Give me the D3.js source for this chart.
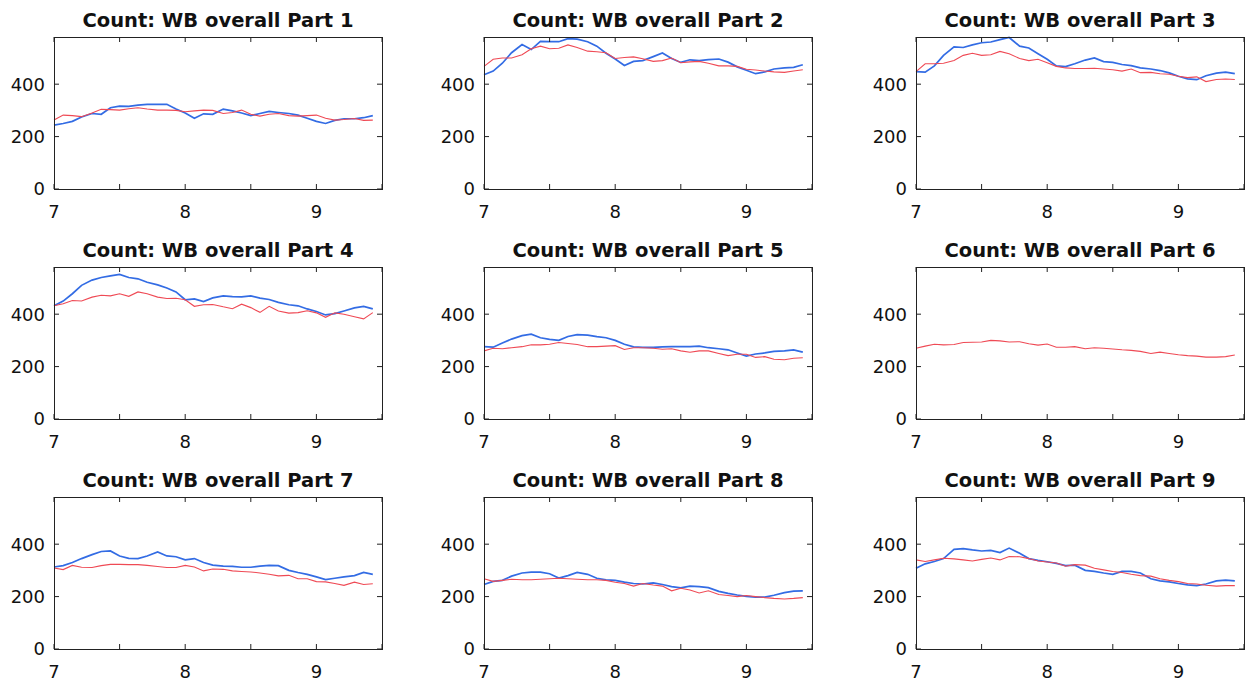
<html>
<head>
<meta charset="utf-8">
<title>Count: WB overall</title>
<style>
  body { margin: 0; background: #fff; }
  .frame { fill: none; stroke: #222; stroke-width: 1; }
  .tick { stroke: #222; stroke-width: 1; }
  .ticklabel { font-family: "DejaVu Sans", sans-serif; font-size: 18px; fill: #111; }
  .title { font-family: "DejaVu Sans", sans-serif; font-weight: bold; font-size: 19.5px; fill: #111; text-anchor: middle; }
  .blue { fill: none; stroke: #336ce4; stroke-width: 1.7; }
  .red { fill: none; stroke: #ef4a55; stroke-width: 1.1; }
</style>
</head>
<body>
<svg width="1249" height="683"></svg>
<script src="https://cdnjs.cloudflare.com/ajax/libs/d3/7.8.5/d3.min.js"></script>
<script>
// sample positions (month), one per week-ish
var xValues = [7.00, 7.07, 7.14, 7.21, 7.29, 7.36, 7.43, 7.50, 7.57, 7.64, 7.71, 7.79,
               7.86, 7.93, 8.00, 8.07, 8.14, 8.21, 8.29, 8.36, 8.43, 8.50, 8.57, 8.64,
               8.71, 8.79, 8.86, 8.93, 9.00, 9.07, 9.14, 9.21, 9.29, 9.36, 9.43];

var xTicks = [7, 7.5, 8, 8.5, 9, 9.5];
var yTicks = [0, 200, 400];
var titles = ["Count: WB overall Part 1", "Count: WB overall Part 2", "Count: WB overall Part 3",
              "Count: WB overall Part 4", "Count: WB overall Part 5", "Count: WB overall Part 6",
              "Count: WB overall Part 7", "Count: WB overall Part 8", "Count: WB overall Part 9"];

var blue1 = [244, 250, 258, 275, 288, 285, 310, 316, 315, 320, 323, 323, 323, 305, 290, 270, 287, 285,
             305, 298, 290, 280, 288, 296, 292, 288, 282, 270, 258, 250, 262, 268, 268, 272, 280];
var red1  = [263, 282, 280, 276, 290, 304, 303, 301, 306, 310, 305, 301, 301, 300, 295, 298, 301, 300,
             288, 292, 301, 285, 278, 285, 288, 280, 278, 280, 282, 270, 263, 265, 269, 262, 263];
var blue2 = [436, 450, 480, 520, 551, 532, 563, 562, 562, 574, 572, 562, 545, 518, 496, 471, 487, 490,
             505, 519, 498, 483, 493, 490, 494, 496, 484, 466, 453, 440, 447, 458, 462, 464, 474];
var red2  = [468, 495, 500, 500, 512, 535, 545, 535, 537, 550, 540, 526, 524, 520, 498, 502, 504, 497,
             487, 490, 500, 482, 485, 487, 480, 470, 470, 468, 457, 454, 450, 447, 445, 450, 455];
var blue3 = [448, 446, 470, 510, 542, 540, 550, 558, 561, 570, 578, 545, 538, 516, 495, 470, 467, 478,
             492, 500, 486, 483, 475, 471, 462, 458, 452, 443, 430, 420, 417, 432, 442, 446, 440];
var red3  = [448, 478, 478, 480, 490, 510, 518, 510, 512, 525, 516, 498, 490, 495, 482, 468, 462, 460,
             460, 461, 458, 455, 450, 458, 444, 445, 440, 438, 430, 425, 428, 410, 418, 420, 418];
var blue4 = [432, 450, 478, 510, 530, 540, 546, 552, 540, 535, 522, 512, 500, 485, 455, 458, 448, 462,
             470, 467, 466, 470, 461, 456, 445, 436, 432, 420, 410, 397, 402, 412, 424, 430, 420];
var red4  = [432, 440, 452, 450, 465, 472, 470, 478, 468, 485, 478, 465, 460, 461, 455, 430, 436, 437,
             428, 421, 438, 425, 407, 430, 412, 404, 406, 413, 405, 388, 405, 400, 390, 382, 406];
var blue5 = [276, 274, 290, 305, 318, 324, 310, 304, 300, 315, 322, 320, 314, 310, 300, 285, 275, 273,
             273, 275, 276, 276, 276, 278, 272, 268, 264, 252, 240, 248, 252, 258, 260, 264, 255];
var red5  = [260, 270, 268, 272, 276, 283, 283, 285, 292, 288, 284, 276, 276, 278, 280, 265, 272, 272,
             270, 266, 268, 260, 255, 260, 260, 250, 242, 247, 247, 235, 238, 228, 226, 232, 234];
var red6  = [270, 278, 285, 283, 284, 292, 293, 294, 300, 298, 294, 295, 287, 282, 286, 274, 274, 276,
             268, 272, 270, 267, 264, 262, 258, 250, 255, 250, 245, 242, 240, 236, 236, 238, 244];
var blue7 = [313, 318, 330, 345, 360, 372, 374, 355, 346, 345, 355, 370, 355, 352, 340, 345, 330, 320,
             316, 315, 312, 312, 316, 319, 318, 300, 292, 285, 275, 265, 270, 275, 280, 292, 285];
var red7  = [309, 303, 319, 312, 311, 318, 323, 323, 322, 322, 319, 315, 311, 311, 319, 313, 298, 305,
             304, 298, 296, 294, 290, 285, 279, 281, 268, 268, 257, 256, 250, 243, 255, 246, 249];
var blue8 = [246, 258, 262, 278, 290, 293, 293, 287, 271, 280, 292, 285, 270, 264, 262, 255, 250, 248,
             252, 246, 238, 233, 240, 238, 234, 220, 212, 206, 201, 198, 198, 205, 215, 221, 222];
var red8  = [268, 258, 262, 266, 264, 264, 266, 268, 270, 268, 266, 264, 264, 262, 255, 250, 240, 250,
             244, 240, 222, 232, 225, 214, 222, 208, 204, 200, 204, 200, 196, 193, 191, 193, 196];
var blue9 = [308, 325, 334, 345, 380, 383, 378, 374, 376, 368, 385, 365, 345, 338, 333, 327, 318, 320,
             300, 296, 290, 285, 296, 296, 290, 268, 260, 256, 250, 245, 242, 248, 260, 263, 260];
var red9  = [340, 334, 340, 346, 344, 340, 336, 342, 347, 340, 353, 352, 345, 336, 332, 328, 316, 322,
             320, 308, 302, 296, 292, 285, 280, 278, 268, 262, 257, 250, 248, 243, 240, 242, 242];

var blueSeries = [blue1, blue2, blue3, blue4, blue5, null, blue7, blue8, blue9];
var redSeries  = [red1, red2, red3, red4, red5, red6, red7, red8, red9];

var svg = d3.select("svg");

var colLeft = [54, 484, 916],
    rowTop = [37, 267, 497],
    pw = 328, ph = 152, tickLen = 5;

var x = d3.scaleLinear().domain([7, 9.5]).range([0, pw]);
var y = d3.scaleLinear().domain([0, 580]).range([ph, 0]);

var line = d3.line()
    .x(function(d, i) { return x(xValues[i]); })
    .y(function(d) { return y(d); });

titles.forEach(function(t, k) {
  var g = svg.append("g")
      .attr("transform", "translate(" + colLeft[k % 3] + "," + rowTop[Math.floor(k / 3)] + ")");

  g.append("text")
      .attr("class", "title")
      .attr("x", pw / 2)
      .attr("y", -10)
      .text(t);

  if (blueSeries[k]) {
    g.append("path").datum(blueSeries[k]).attr("class", "blue").attr("d", line);
  }
  g.append("path").datum(redSeries[k]).attr("class", "red").attr("d", line);

  // ticks on all four sides, pointing in
  xTicks.forEach(function(v) {
    g.append("line").attr("class", "tick")
        .attr("x1", x(v)).attr("x2", x(v)).attr("y1", ph).attr("y2", ph - tickLen);
    g.append("line").attr("class", "tick")
        .attr("x1", x(v)).attr("x2", x(v)).attr("y1", 0).attr("y2", tickLen);
    if (v % 1 === 0) {
      g.append("text").attr("class", "ticklabel")
          .attr("x", x(v)).attr("y", ph + 29)
          .attr("text-anchor", "middle")
          .text(v);
    }
  });
  yTicks.forEach(function(v) {
    g.append("line").attr("class", "tick")
        .attr("x1", 0).attr("x2", tickLen).attr("y1", y(v)).attr("y2", y(v));
    g.append("line").attr("class", "tick")
        .attr("x1", pw).attr("x2", pw - tickLen).attr("y1", y(v)).attr("y2", y(v));
    g.append("text").attr("class", "ticklabel")
        .attr("x", -9).attr("y", y(v))
        .attr("dy", "0.36em")
        .attr("text-anchor", "end")
        .text(v);
  });

  g.append("rect").attr("class", "frame")
      .attr("x", 0.5).attr("y", 0.5).attr("width", pw).attr("height", ph);
});
</script>
</body>
</html>
